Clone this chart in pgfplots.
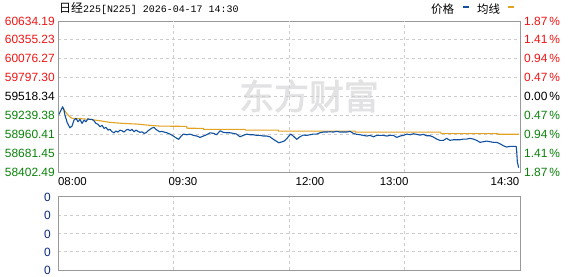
\documentclass[border=0pt]{standalone}
\usepackage{pgfplots}
\usepackage{pgfplotstable}
\pgfplotsset{compat=1.18}
\usepackage{fontspec}
\setmainfont{Liberation Sans}
\setmonofont{Liberation Mono}
\newfontfamily\cjk{Noto Sans CJK SC}
\newfontfamily\cjkb[FakeBold=2.5]{Noto Sans CJK SC}
\definecolor{priceblue}{RGB}{16,80,160}
\definecolor{avgorange}{RGB}{226,162,36}
\definecolor{upred}{RGB}{240,20,20}
\definecolor{dngreen}{RGB}{10,130,10}
\definecolor{framec}{RGB}{153,153,153}
\definecolor{gridc}{RGB}{205,205,205}
\definecolor{zeroblue}{RGB}{10,40,130}
\definecolor{wmark}{RGB}{226,226,228}

\pgfplotstableread{
x y
0.5 59254
2.4 59367
3.1 59318
3.6 59244
4.8 59130
6.2 59056
7.3 59081
8.3 59170
9.4 59195
10.4 59145
11.4 59180
12.5 59121
13.5 59170
14.5 59145
15.6 59189
16.6 59180
17.7 59180
18.7 59160
19.7 59121
20.8 59107
21.8 59071
22.9 59092
23.9 59047
24.9 59062
26.0 59022
27.0 59033
28.1 58997
29.1 58982
30.1 59008
31.2 58993
32.2 59022
33.2 59012
34.3 58993
35.3 59022
36.4 59033
37.4 59012
38.4 59033
39.5 58997
40.5 59022
41.6 59003
42.6 58988
43.6 58997
44.7 58974
45.7 58982
46.8 59012
47.8 59033
48.8 59052
49.9 59062
50.9 59033
51.9 59012
53.0 58997
54.0 59003
55.1 58993
56.5 58982
58.2 58963
59.9 58934
61.7 58900
62.7 58885
63.7 58923
65.1 58963
66.9 58953
68.6 58963
70.3 58944
72.1 58934
73.8 58914
75.5 58934
77.2 58953
79.0 58982
80.7 58974
82.4 58953
84.2 59012
85.9 58988
87.6 58982
89.4 58982
91.1 58974
92.8 58963
94.5 58923
96.3 58944
98.0 58963
99.7 58953
101.5 58953
103.2 58944
104.9 58944
106.7 58934
108.4 58934
110.1 58923
111.9 58885
113.6 58855
114.7 58835
116.0 58845
117.5 58860
119.0 58900
119.6 58923
120.9 58963
122.2 58934
124.0 58885
125.7 58923
127.4 58948
129.2 58944
130.9 58953
132.6 58963
134.4 58963
136.1 58982
137.8 58993
139.6 58993
141.3 58997
143.0 58993
144.8 59003
146.5 58993
148.2 58993
150.0 58993
151.7 59003
153.4 58974
155.2 58959
156.9 58953
158.6 58944
160.4 58934
162.1 58944
163.8 58923
165.6 58944
167.3 58944
169.0 58944
170.8 58934
172.5 58944
174.2 58944
176.0 58914
177.7 58934
179.4 58944
181.2 58963
182.9 58953
184.6 58968
186.3 58959
188.1 58948
189.8 58959
191.5 58938
193.3 58938
195.0 58919
196.7 58889
198.4 58870
200.2 58870
201.9 58900
203.6 58870
205.4 58879
207.1 58879
208.8 58879
210.6 58889
212.3 58889
214.0 58900
215.8 58889
217.5 58870
219.2 58841
221.0 58850
222.7 58860
224.4 58850
226.2 58841
227.9 58841
229.6 58820
231.4 58790
233.1 58771
234.8 58782
236.6 58782
238.0 58782
238.3 58702
238.6 58554
239.3 58466
}\pricedata

\pgfplotstableread{
x y
2.4 59360
3.5 59307
4.8 59259
6.2 59219
7.3 59195
12.0 59190
16.6 59180
21.8 59160
27.0 59136
33.8 59121
41.0 59111
47.8 59092
53.0 59081
66.8 59077
67.0 59050
75.5 59047
75.7 59033
97.1 59033
97.3 59022
114.4 59022
114.6 59006
154.3 59006
154.5 58992
198.8 58992
199.0 58970
228.4 58970
228.6 58960
239.5 58960
}\avgdata

\begin{document}
\begin{tikzpicture}[x=1bp,y=1bp]
\useasboundingbox (0,0) rectangle (578,-276);
% watermark
\node[text=wmark, font=\cjkb\fontsize{35}{35}\selectfont, anchor=center, inner sep=0pt] at (309,-96) {东方财富};
% title
\node[anchor=west, inner sep=0pt] at (59,-8.5) {{\cjk\fontsize{12}{12}\selectfont 日经}{\ttfamily\fontsize{10}{10}\selectfont 225[N225] 2026-04-17 14:30}};
% legend
\node[anchor=west, inner sep=0pt, font=\cjk\fontsize{11.5}{11.5}\selectfont] at (431,-9) {价格};
\fill[priceblue] (463,-5.7) rectangle (468.5,-8);
\node[anchor=west, inner sep=0pt, font=\cjk\fontsize{11.5}{11.5}\selectfont] at (477,-9) {均线};
\fill[avgorange] (508,-5.7) rectangle (513.5,-8);

\begin{axis}[
  at={(58bp,-21bp)}, anchor=north west,
  scale only axis, width=462bp, height=151bp,
  xmin=0, xmax=240,
  ymin=58402.49, ymax=60634.19,
  scaled y ticks=false,
  axis line style={draw=framec, line width=0.9bp},
  major tick length=0pt,
  ytick={58402.49,58681.45,58960.41,59239.38,59518.34,59797.30,60076.27,60355.23,60634.19},
  yticklabels={\textcolor{dngreen}{58402.49},\textcolor{dngreen}{58681.45},\textcolor{dngreen}{58960.41},\textcolor{dngreen}{59239.38},\textcolor{black}{59518.34},\textcolor{upred}{59797.30},\textcolor{upred}{60076.27},\textcolor{upred}{60355.23},\textcolor{upred}{60634.19}},
  yticklabel style={font=\fontsize{12}{12}\selectfont, inner sep=0pt, anchor=east, xshift=-3bp},
  ymajorgrids,
  xtick={7.5,64.9,130.9,174.6,232.2},
  xticklabels={08:00,09:30,12:00,13:00,14:30},
  xticklabel style={font=\fontsize{11.5}{11.5}\selectfont, inner sep=0pt, anchor=north, yshift=-5.5bp},
  extra x ticks={60,120,180},
  extra x tick labels={},
  extra x tick style={grid=major},
  major grid style={draw=gridc, line width=0.8bp, dash pattern=on 3bp off 3bp},
  clip=true,
]
\addplot[avgorange, line width=1.1bp] table[x=x,y=y] {\avgdata};
\addplot[priceblue, line width=1.1bp, line join=round] table[x=x,y=y] {\pricedata};
\end{axis}

\begin{axis}[
  at={(58bp,-21bp)}, anchor=north west,
  scale only axis, width=462bp, height=151bp,
  xmin=0, xmax=240,
  ymin=58402.49, ymax=60634.19,
  scaled y ticks=false,
  axis y line*=right, hide x axis,
  axis line style={draw=framec, line width=0.9bp},
  major tick length=0pt,
  ytick={58402.49,58681.45,58960.41,59239.38,59518.34,59797.30,60076.27,60355.23,60634.19},
  yticklabels={\textcolor{dngreen}{1.87\,\%},\textcolor{dngreen}{1.41\,\%},\textcolor{dngreen}{0.94\,\%},\textcolor{dngreen}{0.47\,\%},\textcolor{black}{0.00\,\%},\textcolor{upred}{0.47\,\%},\textcolor{upred}{0.94\,\%},\textcolor{upred}{1.41\,\%},\textcolor{upred}{1.87\,\%}},
  yticklabel style={font=\fontsize{12}{12}\selectfont, inner sep=0pt, anchor=west, xshift=4bp},
]
\end{axis}

\begin{axis}[
  at={(58bp,-196.7bp)}, anchor=north west,
  scale only axis, width=462bp, height=73.3bp,
  xmin=0, xmax=240, ymin=0, ymax=4,
  axis line style={draw=framec, line width=0.9bp},
  major tick length=0pt,
  xtick={60,120,180}, xticklabels={},
  ytick={0,1,2,3,4}, yticklabels={0,0,0,0,0},
  yticklabel style={font=\fontsize{12}{12}\selectfont, text=zeroblue, inner sep=0pt, anchor=east, xshift=-7bp, yshift=-0.8bp},
  xmajorgrids, ymajorgrids,
  major grid style={draw=gridc, line width=0.8bp, dash pattern=on 3bp off 3bp},
]
\end{axis}
\end{tikzpicture}
\end{document}
